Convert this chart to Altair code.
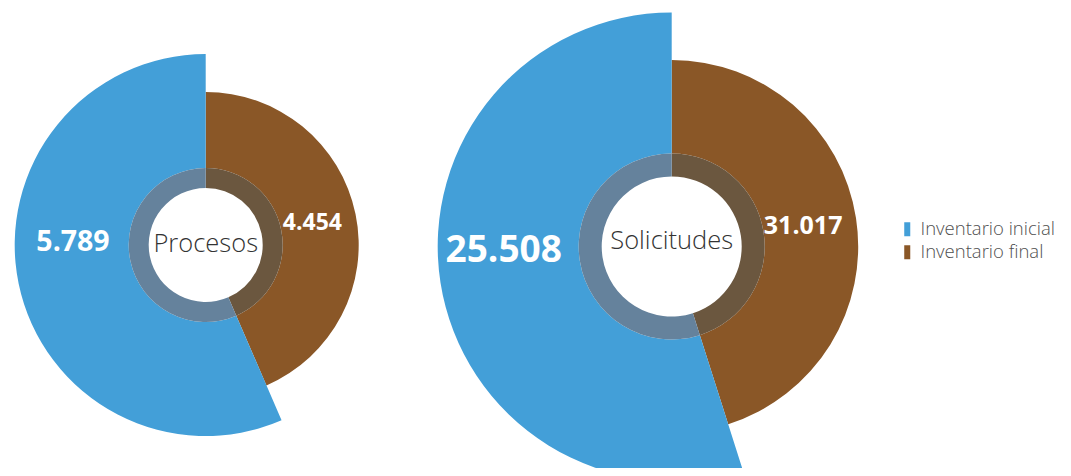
import altair as alt
import pandas as pd

# ---- data ----
graficos = ["Procesos", "Solicitudes"]
series = ["Inventario inicial", "Inventario final"]
inventario_inicial = [5789, 25508]
inventario_final = [4454, 31017]
# share of the full circle (%) that each wedge spans, as drawn
angulo_inicial = [56.5, 54.9]
angulo_final = [43.5, 45.1]

colores = ["#439fd8", "#8a5727"]
colores_anillo = ["#65829c", "#6b573f"]
FUENTE = "Open Sans"

rows = []
for i, g in enumerate(graficos):
    rows.append(dict(grafico=g, serie=series[1], valor=inventario_final[i],
                     cuota=angulo_final[i], orden=0))
    rows.append(dict(grafico=g, serie=series[0], valor=inventario_inicial[i],
                     cuota=angulo_inicial[i], orden=1))
df = pd.DataFrame(rows)
df["etiqueta"] = df["valor"].map(lambda v: f"{v:,}".replace(",", "."))
df_centro = pd.DataFrame({"grafico": graficos})

X = alt.X("grafico:N", axis=None,
          scale=alt.Scale(type="point", domain=graficos, range=[197.7, 663.7], padding=0))
Y = alt.Y("grafico:N", axis=None,
          scale=alt.Scale(type="point", domain=graficos, range=[237, 238.5], padding=0))
THETA = alt.Theta("cuota:Q", stack=True, scale=alt.Scale(domain=[0, 100]))
ES_INI = "datum.serie == 'Inventario inicial'"

color = alt.Color(
    "serie:N",
    scale=alt.Scale(domain=series, range=colores),
    legend=alt.Legend(
        title=None, orient="none", legendX=890, legendY=212,
        symbolType="M-0.43,-1L0.43,-1L0.43,1L-0.43,1Z", symbolSize=196,
        symbolStrokeWidth=0, symbolOpacity=1,
        labelFont=FUENTE, labelFontSize=18.5, labelFontWeight=300,
        labelColor="#505050", labelOffset=4, rowPadding=4, padding=0,
    ),
)


def pie(nombre, r_ini, r_fin, r_anillo, r_hueco, lr_ini, lr_fin,
        dy_ini, dy_fin, fs_ini, fs_fin, dy_centro):
    base = alt.Chart(df).transform_filter(alt.datum.grafico == nombre).encode(
        x=X, y=Y, theta=THETA, order=alt.Order("orden:Q"))
    arcos = base.mark_arc(
        radius=alt.expr(f"{ES_INI} ? {r_ini} : {r_fin}"), radius2=r_anillo
    ).encode(color=color)
    anillo = base.mark_arc(radius=r_anillo, radius2=r_hueco).encode(
        fill=alt.when(alt.datum.serie == series[0])
        .then(alt.value(colores_anillo[0]))
        .otherwise(alt.value(colores_anillo[1])))
    etiquetas = base.mark_text(
        font=FUENTE, fontWeight="bold", color="white", baseline="middle",
        radius=alt.expr(f"{ES_INI} ? {lr_ini} : {lr_fin}"),
        dy=alt.expr(f"{ES_INI} ? {dy_ini} : {dy_fin}"),
    ).encode(
        text="etiqueta:N",
        size=alt.when(alt.datum.serie == series[0])
        .then(alt.value(fs_ini)).otherwise(alt.value(fs_fin)),
    )
    centro = alt.Chart(df_centro).transform_filter(
        alt.datum.grafico == nombre
    ).mark_text(
        font=FUENTE, fontWeight=300, fontSize=25.5, color="#333333",
        baseline="middle", dy=dy_centro,
    ).encode(x=X, y=Y, text="grafico:N")
    return [arcos, anillo, etiquetas, centro]


capas = (pie("Procesos", 191, 153, 77, 57, 135.5, 109, -30, 0, 28.5, 23, -1)
         + pie("Solicitudes", 234, 186.5, 93, 70, 170, 133, -22, 0, 37, 25, -6))

chart = alt.layer(*capas).properties(
    width=1055, height=460,
    autosize=alt.AutoSizeParams(type="none"),
    padding=0,
    background="white",
).configure_view(stroke=None)

chart.save("out.html", embed_options={"renderer": "svg", "actions": False})
